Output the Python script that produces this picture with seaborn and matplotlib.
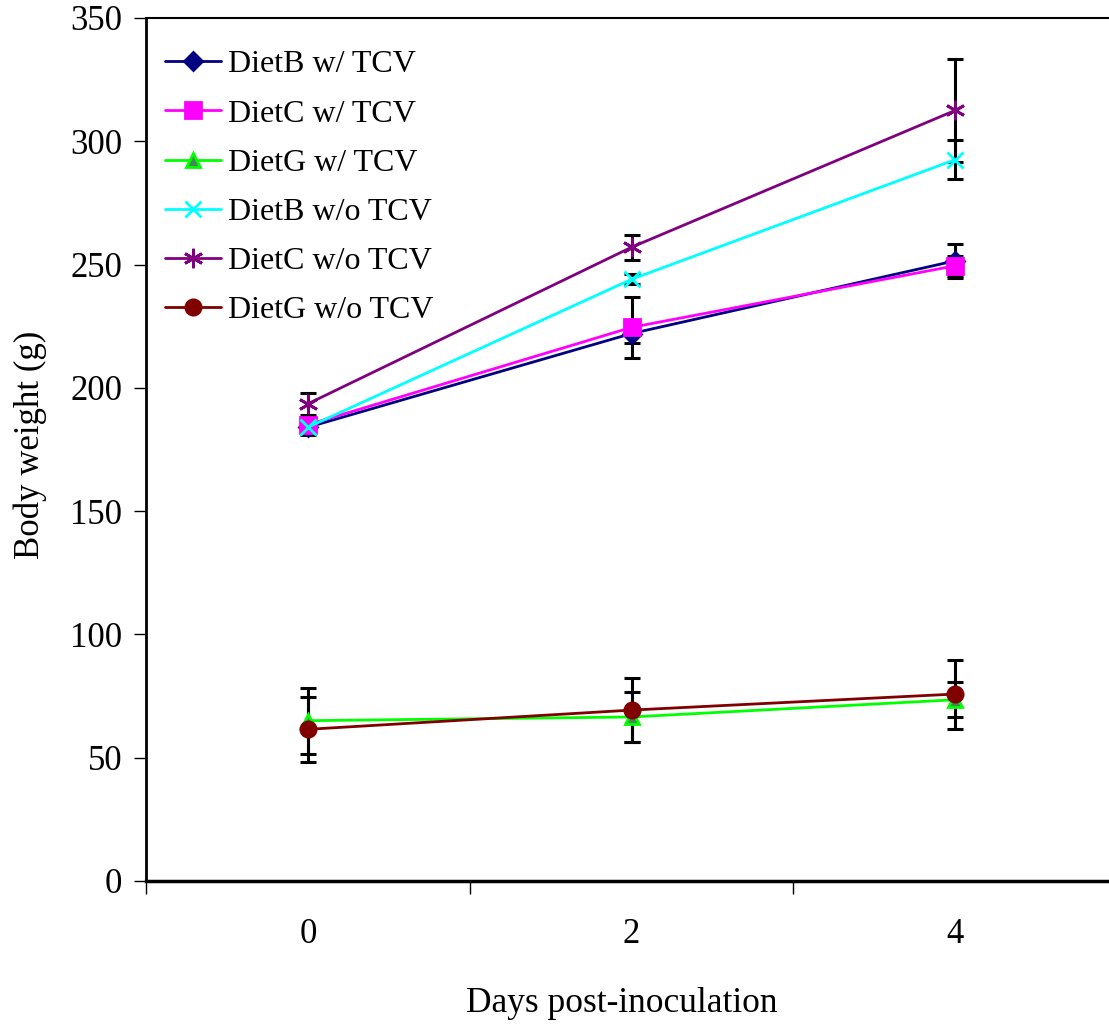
import matplotlib
matplotlib.use("Agg")
import matplotlib.pyplot as plt
import seaborn as sns

# data
days = [0, 2, 4]
dietB_w = [184, 222, 251.5]
dietB_w_err = [3, 4, 7]
dietC_w = [185, 224.5, 249.5]
dietC_w_err = [3, 12.5, 4]
dietG_w = [65, 66.5, 73.5]
dietG_w_err = [13.4, 10, 7]
dietB_wo = [184, 244, 292.5]
dietB_wo_err = [2, 2, 8]
dietC_wo = [193.5, 257, 312.5]
dietC_wo_err = [4.5, 5, 21]
dietG_wo = [61.5, 69.3, 75.8]
dietG_wo_err = [13.2, 13, 14]

labels = ["DietB w/ TCV", "DietC w/ TCV", "DietG w/ TCV",
          "DietB w/o TCV", "DietC w/o TCV", "DietG w/o TCV"]
values = [dietB_w, dietC_w, dietG_w, dietB_wo, dietC_wo, dietG_wo]
errors = [dietB_w_err, dietC_w_err, dietG_w_err, dietB_wo_err, dietC_wo_err, dietG_wo_err]

colors = ["#000080", "#FF00FF", "#00FF00", "#00FFFF", "#800080", "#800000"]
markers = ["D", "s", "^", "x", (6, 2, 0), "o"]
msizes = [9, 11, 10, 11, 14, 11]

sns.set_theme(style="white")
plt.rcParams["font.family"] = ["Liberation Serif", "DejaVu Serif"]
plt.rcParams["text.color"] = "black"
plt.rcParams["axes.labelcolor"] = "black"
plt.rcParams["xtick.color"] = "black"
plt.rcParams["ytick.color"] = "black"

fig = plt.figure(figsize=(11.09, 10.30), dpi=100)
ax = fig.add_axes([0.1317, 0.1447, 0.8755, 0.8379])

for lab, vals, err, col, mk, ms in zip(labels, values, errors, colors, markers, msizes):
    ax.errorbar(days, vals, yerr=err, fmt="none", ecolor="black",
                elinewidth=2.2, capsize=6, capthick=2.2, zorder=1.5)
    face = "#3f8a55" if mk == "^" else col
    sns.lineplot(x=days, y=vals, ax=ax, color=col, marker=mk, markersize=ms,
                 markerfacecolor=face, markeredgecolor=col, markeredgewidth=2,
                 linewidth=2, label=lab)

ax.set_xlim(-1, 5)
ax.set_ylim(0, 350)
ax.set_yticks(range(0, 351, 50))
ax.set_xticks(days)
ax.set_xticks([-1, 1, 3], minor=True)
ax.tick_params(axis="x", which="major", length=0, pad=27, labelsize=25)
ax.tick_params(axis="x", which="minor", length=9, width=1, direction="out", bottom=True)
ax.tick_params(axis="y", length=9, width=1, direction="out", left=True, labelsize=25, pad=8)

for side in ["left", "bottom", "top", "right"]:
    ax.spines[side].set_color("black")
ax.spines["left"].set_linewidth(2)
ax.spines["bottom"].set_linewidth(2.5)
ax.spines["top"].set_linewidth(1.5)

ax.set_xlabel("Days post-inoculation", fontsize=25.5)
ax.set_ylabel("Body weight (g)", fontsize=25)
ax.xaxis.set_label_coords(0.49, -0.123)
ax.yaxis.set_label_coords(-0.102, 0.505)

ax.legend(loc="upper left", bbox_to_anchor=(0.0, 0.985), frameon=False, fontsize=23,
          handlelength=1.75, handletextpad=0.2, labelspacing=0.62, borderaxespad=0.2,
          borderpad=0.4)

fig.savefig("out.png", dpi=100)
